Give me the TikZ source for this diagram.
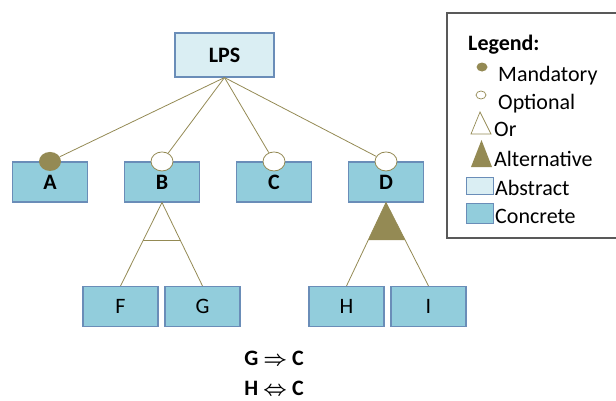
\documentclass[tikz,border=0pt]{standalone}
\usepackage{fontspec}
\setmainfont{Carlito}
\usetikzlibrary{shapes.geometric, calc}

\definecolor{fmolive}{HTML}{948A54}
\definecolor{boxblue}{HTML}{6A8DB8}
\definecolor{concrete}{HTML}{92CDDC}
\definecolor{abstract}{HTML}{DAEEF3}
\definecolor{legframe}{HTML}{595959}

\begin{document}
\fontsize{22}{26}\selectfont
\begin{tikzpicture}[x=1pt, y=-1pt,
  feature/.style={draw=boxblue, fill=concrete, line width=1.1pt, minimum width=75pt, minimum height=40pt, inner sep=0pt, font=\bfseries},
  leaf/.style={feature, font=\mdseries},
  abstractf/.style={feature, fill=abstract, minimum width=99pt, minimum height=44pt},
  link/.style={draw=fmolive, line width=0.8pt},
  mand/.style={ellipse, fill=fmolive, minimum width=22pt, minimum height=19pt, inner sep=0pt},
  opt/.style={mand, draw=fmolive, fill=white, line width=0.8pt},
  legtext/.style={anchor=base west, inner sep=0pt}]
  \useasboundingbox (0,0) rectangle (616,400);

  % features
  \node[abstractf] (lps) at (224.5,55) {LPS};
  \node[feature] (a) at (50,182) {A};
  \node[feature] (b) at (162,182) {B};
  \node[feature] (c) at (274,182) {C};
  \node[feature] (d) at (386,182) {D};
  \node[leaf] (f) at (120.5,306.5) {F};
  \node[leaf] (g) at (202.5,306.5) {G};
  \node[leaf] (h) at (346.5,306.5) {H};
  \node[leaf] (i) at (428.5,306.5) {I};

  % mandatory / optional
  \node[mand] (ma) at (a.north) {};
  \node[opt] (ob) at (b.north) {};
  \node[opt] (oc) at (c.north) {};
  \node[opt] (od) at (d.north) {};
  \draw[link] (lps.south) -- (ma);
  \draw[link] (lps.south) -- (ob);
  \draw[link] (lps.south) -- (oc);
  \draw[link] (lps.south) -- (od);

  % or group
  \draw[link] (b.south) -- (f.north);
  \draw[link] (b.south) -- (g.north);
  \draw[link] ($(b.south)!0.45!(f.north)$) -- ($(b.south)!0.45!(g.north)$);

  % alternative group
  \fill[fmolive] (d.south) -- ($(d.south)!0.45!(h.north)$) -- ($(d.south)!0.45!(i.north)$) -- cycle;
  \draw[link] (d.south) -- (h.north);
  \draw[link] (d.south) -- (i.north);

  % constraints
  \node[font=\bfseries\boldmath] (c1) at (274,358) {G $\Rightarrow$ C};
  \node[font=\bfseries\boldmath] (c2) at (274,388) {H $\Leftrightarrow$ C};

  % legend
  \draw[legframe, line width=1.2pt] (616,13) -- (447,13) -- (447,238) -- (616,238);
  \node[legtext, font=\bfseries] at (468,50) {Legend:};
  \fill[fmolive] (482,67) ellipse (5.5 and 4.5);
  \node[legtext] at (498,81) {Mandatory};
  \draw[fmolive, fill=white, line width=0.7pt] (481,95) ellipse (5 and 4);
  \node[legtext] at (498,109) {Optional};
  \draw[fmolive, line width=0.7pt] (471,134) -- (480,112) -- (491,134) -- cycle;
  \node[legtext] at (494,136) {Or};
  \fill[fmolive] (471,167) -- (481.5,140) -- (492,167) -- cycle;
  \node[legtext] at (494,166) {Alternative};
  \draw[boxblue, fill=abstract, line width=1pt] (466,177) rectangle (493,194);
  \node[legtext] at (495,195) {Abstract};
  \draw[boxblue, fill=concrete, line width=1pt] (466,203) rectangle (493,223);
  \node[legtext] at (495,223) {Concrete};
\end{tikzpicture}
\end{document}
